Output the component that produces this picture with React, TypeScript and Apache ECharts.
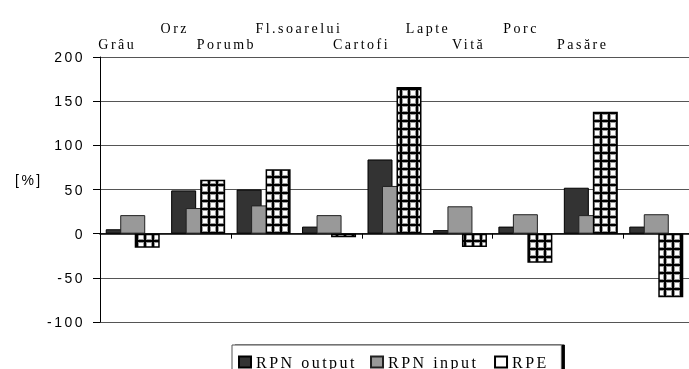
import React, { useEffect, useRef } from 'react';
import * as echarts from 'echarts';

const categories = ['Grâu', 'Orz', 'Porumb', 'Fl.soarelui', 'Cartofi', 'Lapte', 'Vită', 'Porc', 'Pasăre'];
const rpnOutput = [5, 49, 50, 8, 84, 4, 8, 52, 8];
const rpnInput = [21, 29, 32, 21, 54, 31, 22, 21, 22];
const rpe = [-16, 61, 73, -4, 166, -15, -33, 138, -72];
const seriesNames = ['RPN output', 'RPN input', 'RPE'];
const yMin = -100;
const yMax = 200;
const yStep = 50;
const unitLabel = '[%]';

// horizontal nudges of the staggered category labels (layout only)
const labelNudge = [-1, -2, -9, 5, 9, 17, -1, -7, -4];

export default function App() {
  const ref = useRef<HTMLDivElement>(null);
  useEffect(() => {
    const el = ref.current as HTMLDivElement;
    const chart = echarts.init(el, null, { renderer: 'svg' });

    const cv = document.createElement('canvas');
    cv.width = 8;
    cv.height = 8;
    const ctx = cv.getContext('2d') as CanvasRenderingContext2D;
    ctx.fillStyle = '#000';
    ctx.fillRect(0, 0, 8, 8);
    ctx.fillStyle = '#9a9a9a';
    ctx.fillRect(2, 2, 6, 6);
    ctx.fillStyle = '#fff';
    ctx.fillRect(3, 3, 4, 4);

    const serif = 'Liberation Serif';
    const sans = 'Liberation Sans';

    const rich: Record<string, any> = {};
    labelNudge.forEach((s, i) => {
      const padL = s > 0 ? 2 * s : 0;
      const padR = s < 0 ? -2 * s : 0;
      rich['c' + i] = {
        fontFamily: serif,
        fontSize: 14,
        color: '#000',
        padding: [0, padR, i % 2 ? 16 : 0, padL],
      };
    });

    chart.setOption({
      animation: false,
      grid: [
        { left: 100, top: 57, width: 600, height: 265 },
        { left: 89, top: 57, width: 527, height: 265 },
      ],
      xAxis: [
        {
          type: 'category',
          gridIndex: 0,
          data: categories,
          axisLine: { onZero: true, lineStyle: { color: '#000', width: 1.5 } },
          axisTick: { show: true, length: 5, lineStyle: { color: '#000' } },
          axisLabel: { show: false },
          splitLine: { show: false },
        },
        {
          type: 'category',
          gridIndex: 1,
          position: 'top',
          data: categories,
          axisLine: { show: false, onZero: false },
          axisTick: { show: false },
          splitLine: { show: false },
          axisLabel: {
            interval: 0,
            margin: 6,
            fontFamily: serif,
            fontSize: 14,
            color: '#000',
            formatter: (v: string, i: number) => `{c${i}|${v}}`,
            rich,
          },
        },
      ],
      yAxis: [
        {
          type: 'value',
          gridIndex: 0,
          min: yMin,
          max: yMax,
          interval: yStep,
          axisLine: { show: true, lineStyle: { color: '#000' } },
          axisTick: { show: true, length: 7, lineStyle: { color: '#000' } },
          axisLabel: { color: '#000', fontFamily: sans, fontSize: 14, margin: 15 },
          splitLine: { show: true, lineStyle: { color: '#555' } },
        },
        { type: 'value', gridIndex: 1, show: false },
      ],
      legend: {
        left: 232,
        top: 345,
        orient: 'horizontal',
        icon: 'rect',
        itemWidth: 12,
        itemHeight: 11,
        itemGap: 38,
        padding: [9, 20, 10, 6],
        borderColor: '#555',
        borderWidth: 1,
        backgroundColor: '#fff',
        shadowColor: '#000',
        shadowOffsetX: 3,
        shadowOffsetY: 0,
        shadowBlur: 0,
        textStyle: { fontFamily: serif, fontSize: 16, color: '#000' },
        data: [
          { name: seriesNames[0] },
          { name: seriesNames[1] },
          { name: seriesNames[2], itemStyle: { color: '#fff', borderColor: '#000', borderWidth: 2 } },
        ],
      },
      graphic: [
        {
          type: 'text',
          left: 15,
          top: 173,
          style: { text: unitLabel, font: `14px "${sans}"`, fill: '#000' },
        },
      ],
      series: [
        {
          name: seriesNames[0],
          type: 'bar',
          data: rpnOutput,
          barWidth: 25,
          barGap: '-42%',
          itemStyle: { color: '#333', borderColor: '#000', borderWidth: 1 },
        },
        {
          name: seriesNames[1],
          type: 'bar',
          data: rpnInput,
          barWidth: 25,
          barGap: '-42%',
          itemStyle: { color: '#999', borderColor: '#222', borderWidth: 1 },
        },
        {
          name: seriesNames[2],
          type: 'bar',
          data: rpe,
          barWidth: 25,
          barGap: '-42%',
          itemStyle: {
            color: { image: cv, repeat: 'repeat' },
            borderColor: '#000',
            borderWidth: 1.5,
          },
        },
      ],
    });
    return () => chart.dispose();
  }, []);
  return (
    <div>
      <style>{`.rs-chart text { letter-spacing: 2.5px; }`}</style>
      <div
        ref={ref}
        className="rs-chart"
        style={{ position: 'fixed', left: 0, top: 0, width: 689, height: 369 }}
      />
    </div>
  );
}
